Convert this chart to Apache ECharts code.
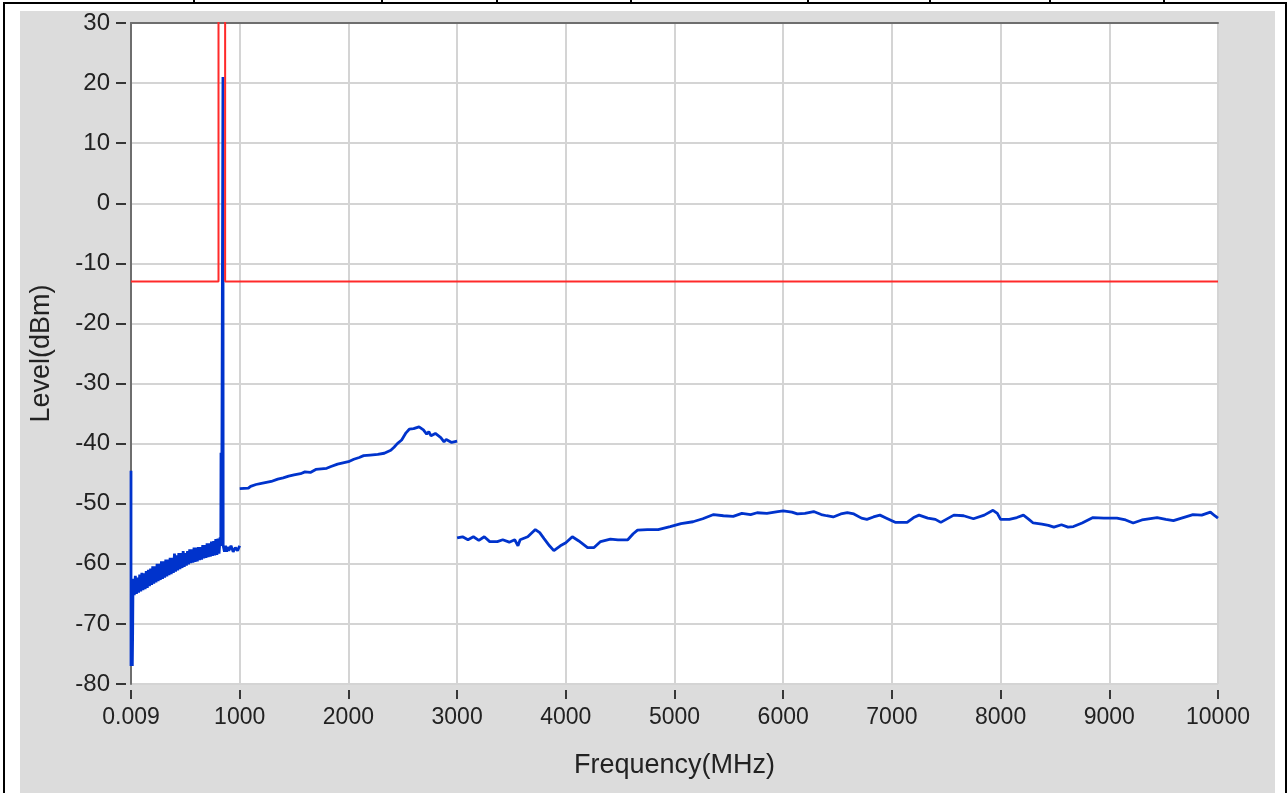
<!DOCTYPE html>
<html>
<head>
<meta charset="utf-8">
<script src="https://cdn.jsdelivr.net/npm/echarts@6/dist/echarts.min.js"></script>
<style>
  body { margin: 0; background: #fff; }
  #frame {
    position: absolute; left: 3px; top: 2px; width: 1280px; height: 800px;
    border-left: 2px solid #000; border-right: 2px solid #000; border-top: 2px solid #000;
  }
  .cell { position: absolute; top: 0; width: 2px; height: 3px; background: #000; }
  #chart01 {
    position: absolute; left: 20px; top: 11px; width: 1255px; height: 782px;
    background: #dcdcdc;
  }
</style>
</head>
<body>
<div id="frame"></div>
<div class="cell" style="left:193px"></div>
<div class="cell" style="left:381px"></div>
<div class="cell" style="left:496px"></div>
<div class="cell" style="left:630px"></div>
<div class="cell" style="left:807px"></div>
<div class="cell" style="left:929px"></div>
<div class="cell" style="left:1049px"></div>
<div class="cell" style="left:1163px"></div>
<div id="chart01"></div>

<script>
// 频率(MHz), 电平(dBm) —— 迹线
// 0.009 ~ 1000 MHz 段（含 850 MHz 附近的尖峰）
const lowBandTrace = [
  [0.009, -44.5], [0.009, -77], [5, -77], [8, -71], [12, -77], [15, -72], [18, -64],
  [20, -62.5], [30, -65.2], [40, -62], [50, -65], [60, -62.3], [70, -64.8], [80, -61.8], [90, -64.6],
  [100, -61.5], [110, -64.4], [120, -61.6], [130, -64.2], [140, -61.2], [150, -64], [160, -61], [170, -63.7],
  [180, -60.8], [190, -63.5], [200, -60.4], [210, -63.3], [220, -60.4], [230, -63.1], [240, -60], [250, -62.9],
  [260, -60], [270, -62.7], [280, -59.6], [290, -62.5], [300, -59.6], [310, -62.3], [320, -59.3], [330, -62.1],
  [340, -59.3], [350, -61.9], [360, -59], [370, -61.7], [380, -59], [390, -61.5], [400, -58.3], [410, -61.3],
  [420, -58.6], [430, -61.1], [440, -58.2], [450, -60.9], [460, -58.2], [470, -60.7], [480, -57.9], [490, -60.5],
  [500, -58.2], [510, -60.3], [520, -57.9], [530, -60.1], [540, -57.6], [550, -59.9], [560, -57.6], [570, -59.8],
  [580, -57.3], [590, -59.7], [600, -57.3], [610, -59.6], [620, -57.2], [630, -59.4], [640, -57.2], [650, -59.3],
  [660, -56.9], [670, -59.1], [680, -56.9], [690, -59], [700, -56.6], [710, -58.9], [720, -56.6], [730, -58.8],
  [740, -56.3], [750, -58.7], [760, -56.2], [770, -58.6], [780, -55.9], [790, -58.5], [800, -55.8], [810, -58.3],
  [820, -55.6], [826, -57], [828, -41.5], [830, -57], [834, -56], [846, -56], [846, 21], [848, -57],
  [860, -58], [870, -57], [880, -58], [890, -57.2], [900, -57.8], [920, -57], [940, -58], [960, -57.3],
  [980, -57.8], [1000, -57]
];

// 1000 ~ 3000 MHz 段
const midBandTrace = [
  [1000, -47.5], [1080, -47.4], [1100, -47.1], [1150, -46.8], [1200, -46.6], [1290, -46.3], [1350, -45.9],
  [1400, -45.7], [1450, -45.4], [1500, -45.2], [1560, -45], [1600, -44.7], [1650, -44.8], [1700, -44.3],
  [1750, -44.2], [1800, -44.1], [1840, -43.8], [1900, -43.4], [1950, -43.2], [2000, -43], [2050, -42.6],
  [2100, -42.3], [2140, -42], [2200, -41.9], [2270, -41.8], [2330, -41.6], [2390, -41.1], [2420, -40.6],
  [2450, -40], [2490, -39.4], [2530, -38.2], [2560, -37.6], [2600, -37.5], [2650, -37.2], [2690, -37.7],
  [2720, -38.4], [2740, -38], [2760, -38.7], [2800, -38.3], [2850, -39], [2880, -39.7], [2900, -39.3],
  [2950, -39.8], [3000, -39.6]
];

// 3000 ~ 10000 MHz 段
const highBandTrace = [
  [3000, -55.7], [3050, -55.5], [3100, -56], [3150, -55.5], [3200, -56.1], [3250, -55.5], [3300, -56.3],
  [3370, -56.3], [3420, -56], [3480, -56.4], [3530, -56], [3560, -57], [3580, -56], [3650, -55.5],
  [3720, -54.3], [3760, -54.8], [3800, -55.8], [3850, -57], [3890, -57.8], [3950, -57], [4000, -56.5],
  [4060, -55.5], [4120, -56.2], [4200, -57.3], [4260, -57.3], [4320, -56.3], [4410, -55.9], [4480, -56],
  [4570, -56], [4620, -55], [4660, -54.4], [4750, -54.3], [4850, -54.3], [4960, -53.8], [5060, -53.3],
  [5170, -53], [5260, -52.5], [5360, -51.8], [5450, -52], [5540, -52.1], [5620, -51.6], [5700, -51.8],
  [5760, -51.5], [5850, -51.6], [5950, -51.3], [6000, -51.2], [6080, -51.4], [6130, -51.7], [6200, -51.6],
  [6280, -51.3], [6350, -51.8], [6400, -52], [6460, -52.2], [6530, -51.7], [6590, -51.5], [6650, -51.7],
  [6720, -52.4], [6770, -52.6], [6830, -52.2], [6890, -51.9], [6950, -52.4], [7030, -53.1], [7140, -53.1],
  [7200, -52.3], [7250, -51.9], [7330, -52.4], [7400, -52.6], [7450, -53.1], [7520, -52.4], [7570, -51.9],
  [7660, -52], [7750, -52.5], [7850, -51.9], [7930, -51.1], [7970, -51.6], [8000, -52.6], [8080, -52.6],
  [8150, -52.3], [8210, -51.9], [8260, -52.6], [8300, -53.2], [8380, -53.4], [8440, -53.6], [8490, -53.9],
  [8560, -53.5], [8620, -53.9], [8670, -53.8], [8750, -53.2], [8850, -52.3], [8950, -52.4], [9070, -52.4],
  [9150, -52.7], [9220, -53.2], [9300, -52.7], [9440, -52.3], [9520, -52.6], [9590, -52.8], [9680, -52.3],
  [9770, -51.8], [9850, -51.9], [9930, -51.4], [9970, -52], [10000, -52.4]
];

// 限值线（红色）
const limitLine = [
  [0.009, -13], [805, -13], [805, 40], [866, 40], [866, -13], [10000, -13]
];

const xMin = 0, xMax = 10000, xStep = 1000;
const yMin = -80, yMax = 30, yStep = 10;
const firstTickLabel = '0.009';

var myChart = echarts.init(document.getElementById('chart01'));

var labelFont = 'Liberation Sans, Arial, sans-serif';
var traceStyle = { color: '#0033cc', width: 2.8 };

var option = {
  animation: false,
  grid: {
    left: 106, right: 57, top: 12, bottom: 109,
    show: true, backgroundColor: '#fff', borderWidth: 0
  },
  xAxis: [
    {
      type: 'value', min: xMin, max: xMax, interval: xStep,
      position: 'bottom', offset: 6,
      axisLine: { show: false, onZero: false },
      axisTick: { show: true, length: 9, lineStyle: { color: '#000', width: 1.5 } },
      axisLabel: {
        fontSize: 23, color: '#222', fontFamily: labelFont, margin: 16,
        formatter: function (v) { return v === xMin ? firstTickLabel : String(v); }
      },
      splitLine: { show: true, lineStyle: { color: '#d4d4d4', width: 2 } },
      name: 'Frequency(MHz)', nameLocation: 'middle', nameGap: 62,
      nameTextStyle: { fontSize: 27, color: '#222', fontFamily: labelFont }
    },
    {
      // 顶部深色边框
      type: 'value', min: xMin, max: xMax, position: 'top',
      axisLine: { show: true, onZero: false, lineStyle: { color: '#6e6e6e', width: 2 } },
      axisTick: { show: false }, axisLabel: { show: false }, splitLine: { show: false }
    }
  ],
  yAxis: [
    {
      // 左侧深色边框 + 网格
      type: 'value', min: yMin, max: yMax, interval: yStep,
      axisLine: { show: true, onZero: false, lineStyle: { color: '#6e6e6e', width: 2 } },
      axisTick: { show: false }, axisLabel: { show: false },
      splitLine: { show: true, lineStyle: { color: '#d4d4d4', width: 2 } }
    },
    {
      type: 'value', min: yMin, max: yMax, interval: yStep,
      position: 'left', offset: 5,
      axisLine: { show: false, onZero: false },
      axisTick: { show: true, length: 10, lineStyle: { color: '#000', width: 1.5 } },
      axisLabel: { fontSize: 24, color: '#222', fontFamily: labelFont, margin: 16 },
      splitLine: { show: false },
      name: 'Level(dBm)', nameLocation: 'middle', nameGap: 71, nameRotate: 90,
      nameTextStyle: { fontSize: 27, color: '#222', fontFamily: labelFont }
    }
  ],
  series: [
    { type: 'line', data: lowBandTrace, showSymbol: false, lineStyle: traceStyle, clip: true },
    { type: 'line', data: midBandTrace, showSymbol: false, lineStyle: traceStyle, clip: true },
    { type: 'line', data: highBandTrace, showSymbol: false, lineStyle: traceStyle, clip: true },
    { type: 'line', data: limitLine, showSymbol: false, lineStyle: { color: '#ff2a2a', width: 2 }, clip: true }
  ]
};

myChart.setOption(option);
</script>
</body>
</html>
